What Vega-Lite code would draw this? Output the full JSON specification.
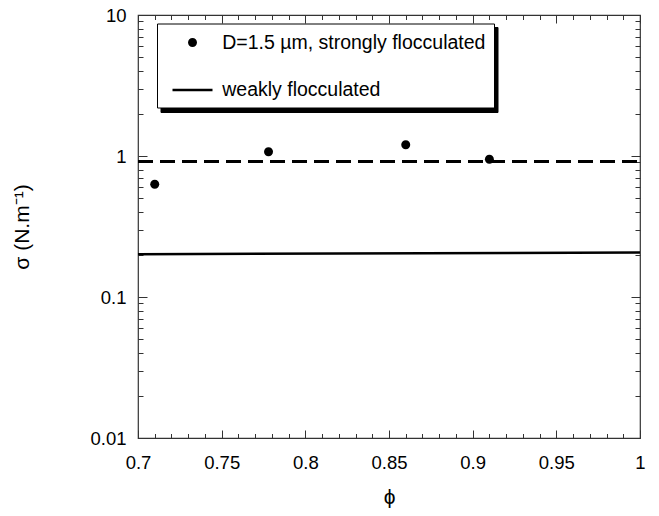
{
  "$schema": "https://vega.github.io/schema/vega-lite/v6.json",
  "width": 502,
  "height": 423,
  "autosize": {"type": "none"},
  "padding": {"left": 138, "top": 15, "right": 19, "bottom": 78},
  "background": "white",
  "datasets": {
    "points": [
      {"phi": 0.71, "sigma": 0.63, "series": "D=1.5 µm, strongly flocculated"},
      {"phi": 0.778, "sigma": 1.07, "series": "D=1.5 µm, strongly flocculated"},
      {"phi": 0.86, "sigma": 1.2, "series": "D=1.5 µm, strongly flocculated"},
      {"phi": 0.91, "sigma": 0.95, "series": "D=1.5 µm, strongly flocculated"}
    ],
    "dashed": [
      {"phi": 0.7, "sigma": 0.915},
      {"phi": 1.0, "sigma": 0.915}
    ],
    "weak": [
      {"phi": 0.7, "sigma": 0.201},
      {"phi": 1.0, "sigma": 0.207}
    ]
  },
  "layer": [
    {
      "data": {"name": "points"},
      "mark": {"type": "point", "filled": true, "size": 400, "fill": "black", "strokeWidth": 0, "opacity": 1},
      "encoding": {
        "x": {
          "field": "phi", "type": "quantitative",
          "scale": {"domain": [0.7, 1], "nice": false, "zero": false},
          "axis": {
            "orient": "bottom",
            "values": [0.7,0.75,0.8,0.85,0.9,0.95,1],
            "format": "~g",
            "domain": false,
            "tickColor": "#333333",
            "tickWidth": 1,
            "tickSize": -8,
            "labelPadding": 23.5,
            "labelFlush": false,
            "title": "ϕ",
            "titlePadding": 14
          }
        },
        "y": {
          "field": "sigma", "type": "quantitative",
          "scale": {"type": "log", "domain": [0.01, 10], "nice": false},
          "axis": {
            "orient": "left",
            "values": [0.01,0.1,1,10],
            "format": "~g",
            "domain": false,
            "tickColor": "#333333",
            "tickWidth": 1,
            "tickSize": -9,
            "labelPadding": 21,
            "labelFlush": false,
            "title": "σ (N.m⁻¹)",
            "titlePadding": 57
          }
        },
        "shape": {
          "field": "series", "type": "nominal",
          "scale": {
            "domain": ["D=1.5 µm, strongly flocculated", "weakly flocculated"],
            "range": ["M-0.45,0A0.45,0.45,0,1,0,0.45,0A0.45,0.45,0,1,0,-0.45,0Z", "M-2,-0.125L2,-0.125L2,0.125L-2,0.125Z"]
          },
          "legend": {
            "orient": "none",
            "legendX": 19,
            "legendY": 8.5,
            "title": null,
            "padding": 8,
            "symbolSize": 400,
            "symbolOffset": 16.5,
            "labelOffset": 18.7,
            "rowPadding": 26.4,
            "labelFont": "Liberation Sans",
            "labelFontSize": 19.5,
            "labelColor": "black",
            "labelLimit": 500,
            "fillColor": "white",
            "strokeColor": "black",
            "zindex": 2,
            "encode": {
              "legend": {"update": {"strokeWidth": {"value": 1.5}}}
            }
          }
        }
      }
    },
    {
      "data": {"name": "dashed"},
      "mark": {"type": "line", "color": "black", "strokeWidth": 3, "strokeDash": [15, 7]},
      "encoding": {
        "x": {
          "field": "phi", "type": "quantitative",
          "axis": {
            "orient": "top",
            "values": [0.7,0.75,0.8,0.85,0.9,0.95,1],
            "labels": false,
            "domain": false,
            "tickColor": "#333333",
            "tickWidth": 1,
            "tickSize": -8,
            "title": null
          }
        },
        "y": {
          "field": "sigma", "type": "quantitative",
          "axis": {
            "orient": "right",
            "values": [0.01,0.1,1,10],
            "labels": false,
            "domain": false,
            "tickColor": "#333333",
            "tickWidth": 1,
            "tickSize": -9,
            "title": null
          }
        }
      }
    },
    {
      "data": {"name": "weak"},
      "mark": {"type": "line", "color": "black", "strokeWidth": 2.5},
      "encoding": {
        "x": {
          "field": "phi", "type": "quantitative",
          "axis": {
            "orient": "bottom",
            "values": [0.71,0.72,0.73,0.74,0.76,0.77,0.78,0.79,0.81,0.82,0.83,0.84,0.86,0.87,0.88,0.89,0.91,0.92,0.93,0.94,0.96,0.97,0.98,0.99],
            "labels": false,
            "domain": false,
            "tickColor": "#333333",
            "tickWidth": 1,
            "tickSize": -4.5,
            "title": null
          }
        },
        "y": {
          "field": "sigma", "type": "quantitative",
          "axis": {
            "orient": "left",
            "values": [0.02,0.03,0.04,0.05,0.06,0.07,0.08,0.09,0.2,0.3,0.4,0.5,0.6,0.7,0.8,0.9,2,3,4,5,6,7,8,9],
            "labels": false,
            "domain": false,
            "tickColor": "#333333",
            "tickWidth": 1,
            "tickSize": -5,
            "title": null
          }
        }
      }
    },
    {
      "data": {"name": "points"},
      "mark": {"type": "point", "filled": true, "opacity": 0, "size": 400},
      "encoding": {
        "x": {
          "field": "phi", "type": "quantitative",
          "axis": {
            "orient": "top",
            "values": [0.71,0.72,0.73,0.74,0.76,0.77,0.78,0.79,0.81,0.82,0.83,0.84,0.86,0.87,0.88,0.89,0.91,0.92,0.93,0.94,0.96,0.97,0.98,0.99],
            "labels": false,
            "domain": false,
            "tickColor": "#333333",
            "tickWidth": 1,
            "tickSize": -4.5,
            "title": null
          }
        },
        "y": {
          "field": "sigma", "type": "quantitative",
          "axis": {
            "orient": "right",
            "values": [0.02,0.03,0.04,0.05,0.06,0.07,0.08,0.09,0.2,0.3,0.4,0.5,0.6,0.7,0.8,0.9,2,3,4,5,6,7,8,9],
            "labels": false,
            "domain": false,
            "tickColor": "#333333",
            "tickWidth": 1,
            "tickSize": -5,
            "title": null
          }
        },
        "fill": {
          "datum": "s1", "type": "nominal",
          "scale": {"domain": ["s1", "s2"], "range": ["black", "black"]},
          "legend": {
            "orient": "none",
            "legendX": 22.5,
            "legendY": 12,
            "title": null,
            "padding": 8,
            "symbolSize": 400,
            "symbolOffset": 16.5,
            "labelOffset": 18.7,
            "rowPadding": 26.4,
            "labelFont": "Liberation Sans",
            "labelFontSize": 19.5,
            "labelColor": "black",
            "labelLimit": 500,
            "labelExpr": "datum.value == 's1' ? 'D=1.5 µm, strongly flocculated' : 'weakly flocculated'",
            "fillColor": "black",
            "strokeColor": "black",
            "zindex": 1
          }
        }
      }
    }
  ],
  "resolve": {"axis": {"x": "independent", "y": "independent"}},
  "config": {
    "font": "Liberation Sans",
    "view": {"stroke": "#333333", "strokeWidth": 1.2},
    "axis": {
      "gridOpacity": 0,
      "labelFont": "Liberation Sans",
      "labelFontSize": 18.5,
      "labelColor": "black",
      "titleFont": "Liberation Sans",
      "titleFontSize": 21,
      "titleFontWeight": "normal",
      "titleColor": "black"
    }
  }
}
